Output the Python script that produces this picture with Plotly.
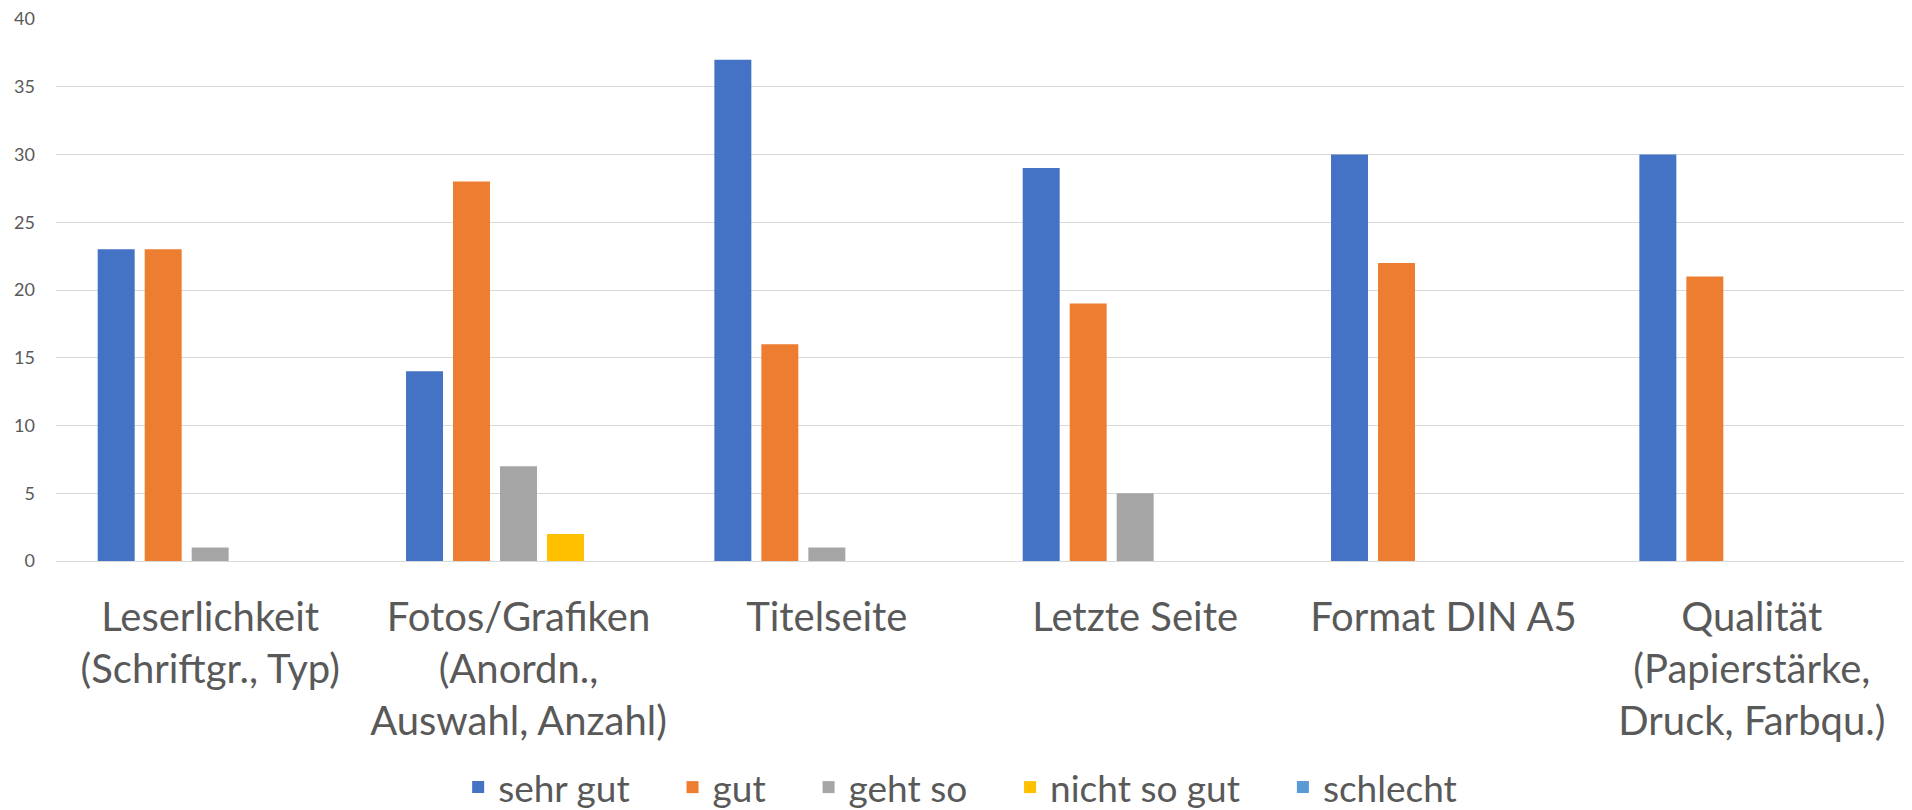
import plotly.graph_objects as go

categories = [
    "Leserlichkeit<br>(Schriftgr., Typ)",
    "Fotos/Grafiken<br>(Anordn.,<br>Auswahl, Anzahl)",
    "Titelseite",
    "Letzte Seite",
    "Format DIN A5",
    "Qualität<br>(Papierstärke,<br>Druck, Farbqu.)",
]
series_names = ["sehr gut", "gut", "geht so", "nicht so gut", "schlecht"]
sehr_gut = [23, 14, 37, 29, 30, 30]
gut = [23, 28, 16, 19, 22, 21]
geht_so = [1, 7, 1, 5, 0, 0]
nicht_so_gut = [0, 2, 0, 0, 0, 0]
schlecht = [0, 0, 0, 0, 0, 0]
colors = ["#4472C4", "#ED7D31", "#A5A5A5", "#FFC000", "#5B9BD5"]
y_ticks = [0, 5, 10, 15, 20, 25, 30, 35, 40]

values = [sehr_gut, gut, geht_so, nicht_so_gut, schlecht]

PAD = "\u00a0" * 4  # extra space after each legend entry, as in the reference
fig = go.Figure()
for name, vals, col in zip(series_names, values, colors):
    fig.add_trace(go.Bar(x=categories, y=vals, name=name + PAD, marker_color=col,
                         marker_line_width=0))

FONT = "Lato"
TXT = "#595959"
fig.update_layout(
    width=1904, height=802,
    margin=dict(l=48, r=6, t=11, b=249, autoexpand=False),
    paper_bgcolor="white", plot_bgcolor="white",
    barmode="group", bargap=0.238, bargroupgap=0.213,
    font=dict(family=FONT, color=TXT),
    legend=dict(orientation="h", x=0.499, xanchor="center", y=-0.418, yanchor="middle",
                font=dict(size=37, family=FONT, color=TXT), itemclick=False,
                traceorder="normal"),
    xaxis=dict(tickfont=dict(size=40, family=FONT, color=TXT), showline=False,
               ticks="", ticklabelstandoff=29, automargin=False),
    yaxis=dict(range=[0, 40], tickvals=y_ticks, showgrid=True, gridcolor="#D9D9D9",
               gridwidth=1.3, zeroline=True, zerolinecolor="#D9D9D9", zerolinewidth=1.3,
               tickfont=dict(size=18, family=FONT, color=TXT), ticklabelstandoff=20,
               ticklabeloverflow="allow", automargin=False),
)
fig.write_html("out.html")
